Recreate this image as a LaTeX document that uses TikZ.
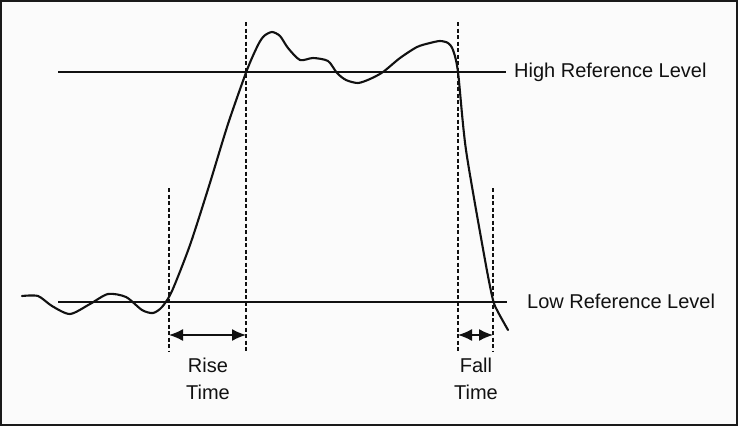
\documentclass[tikz,border=0pt]{standalone}
\usepackage{fontspec}
\setmainfont{Liberation Sans}
\usepackage{tikz}
\usetikzlibrary{arrows.meta, positioning, calc}
\definecolor{rtInk}{HTML}{111111}
\definecolor{rtBack}{HTML}{FBFBFB}
\definecolor{rtFrame}{HTML}{1A1A1A}
\tikzset{
  rt-level/.style={line width=1.4pt, draw=rtInk},
  rt-guide/.style={line width=1.1pt, draw=rtInk, dash pattern=on 4pt off 2.5pt},
  rt-span/.style={{Latex[length=14pt,width=12pt]}-{Latex[length=14pt,width=12pt]},
    line width=1.5pt, draw=rtInk},
  rt-wave/.style={line width=2.1pt, draw=rtInk, line cap=round, line join=round},
  rt-label/.style={inner sep=0pt, text=rtInk, align=center,
    font=\fontsize{20}{27}\selectfont},
}
\begin{document}
\begin{tikzpicture}[x=1pt, y=-1pt]
  \useasboundingbox (0,0) rectangle (738,426);
  \fill[rtBack] (0,0) rectangle (738,426);
  \draw[rtFrame, line width=2pt] (1,1) rectangle (737,425);

  % reference levels
  \coordinate (hiL) at (58,72);
  \coordinate (hiR) at (506,72);
  \coordinate (loL) at (58,302);
  \coordinate (loR) at (507,302);
  \node[rt-label, anchor=west] (hi) at (514,72) {High Reference Level};
  \node[rt-label, anchor=west] (lo) at (527,301) {Low Reference Level};
  \draw[rt-level] (hiL) -- (hiR);
  \draw[rt-level] (loL) -- (loR);

  % guides at the crossings
  \coordinate (rLoT) at (169,188);  \coordinate (rLoB) at (169,352);
  \coordinate (rHiT) at (246,22);   \coordinate (rHiB) at (246,352);
  \coordinate (fHiT) at (458,22);   \coordinate (fHiB) at (458,352);
  \coordinate (fLoT) at (493,188);  \coordinate (fLoB) at (493,352);
  \foreach \t/\b in {rLoT/rLoB, rHiT/rHiB, fHiT/fHiB, fLoT/fLoB}
    \draw[rt-guide] (\t) -- (\b);

  % spans
  \coordinate (rA) at (169,335);  \coordinate (rB) at (246,335);
  \coordinate (fA) at (458,335);  \coordinate (fB) at (493,335);
  \draw[rt-span] (rA) -- (rB);
  \draw[rt-span] (fA) -- (fB);
  \node[rt-label] (rise) at (208,379) {Rise\\Time};
  \node[rt-label] (fall) at (476,379) {Fall\\Time};

  % the pulse
  \draw[rt-wave] plot[smooth, tension=0.45] coordinates {
    (22,296) (38,296) (52,306) (70,314) (90,304) (108,294) (126,297)
    (142,310) (153,313) (162,307) (172,291) (190,245) (209,186)
    (228,124) (247,70) (258,45) (264,36) (272,32) (280,36) (288,48)
    (300,60) (313,58) (328,61) (337,73) (346,80) (358,83) (370,79)
    (383,72) (400,58) (417,47) (430,43) (440,41) (448,43) (453,50)
    (458,72) (466,150) (485,260) (493,300) (498,312) (508,330)};
\end{tikzpicture}
\end{document}
